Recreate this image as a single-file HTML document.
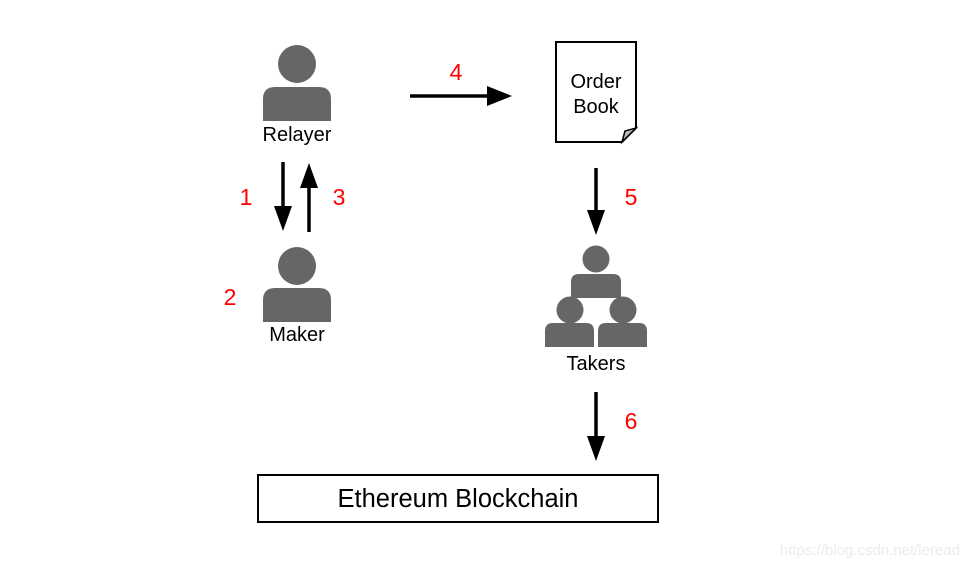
<!DOCTYPE html>
<html><head><meta charset="utf-8"><style>
html,body{margin:0;padding:0;background:#fff;}
svg{display:block}
text{font-family:"Liberation Sans",Arial,sans-serif;}
</style></head><body>
<svg width="968" height="568" viewBox="0 0 968 568" xmlns="http://www.w3.org/2000/svg">
<rect width="968" height="568" fill="#fff"/>
<!-- Order book -->
<path d="M556 42 H636 V128 L622 142 H556 Z" fill="#fff" stroke="#000" stroke-width="2"/>
<path d="M636 128 L622 142 L625 131 Z" fill="#bbb" stroke="#000" stroke-width="1.5"/>
<g fill="#666">
 <circle cx="297" cy="64" r="19"/>
 <path d="M263 121 V99 Q263 87 275 87 H319 Q331 87 331 99 V121 Z"/>
 <circle cx="297" cy="266" r="19"/>
 <path d="M263 322 V300 Q263 288 275 288 H319 Q331 288 331 300 V322 Z"/>
 <circle cx="596" cy="259" r="13.5"/>
 <path d="M571 298 V282 Q571 274 579 274 H613 Q621 274 621 282 V298 Z"/>
 <circle cx="570" cy="310" r="13.5"/>
 <path d="M545 347 V331 Q545 323 553 323 H586 Q594 323 594 331 V347 Z"/>
 <circle cx="623" cy="310" r="13.5"/>
 <path d="M598 347 V331 Q598 323 606 323 H639 Q647 323 647 331 V347 Z"/>
</g>
<g font-size="20" fill="#000" text-anchor="middle">
 <text x="297" y="141">Relayer</text>
 <text x="297" y="341">Maker</text>
 <text x="596" y="370">Takers</text>
 <text x="596" y="88">Order</text>
 <text x="596" y="113">Book</text>
</g>
<g stroke="#000" stroke-width="3.5">
 <line x1="410" y1="96" x2="492" y2="96"/>
 <line x1="283" y1="162" x2="283" y2="210"/>
 <line x1="309" y1="185" x2="309" y2="232"/>
 <line x1="596" y1="168" x2="596" y2="214"/>
 <line x1="596" y1="392" x2="596" y2="440"/>
</g>
<g fill="#000">
 <path d="M487 86 L512 96 L487 106 Z"/>
 <path d="M274 206 L292 206 L283 231 Z"/>
 <path d="M300 188 L318 188 L309 163 Z"/>
 <path d="M587 210 L605 210 L596 235 Z"/>
 <path d="M587 436 L605 436 L596 461 Z"/>
</g>
<g font-size="23" fill="#f00" text-anchor="middle">
 <text x="246" y="205">1</text>
 <text x="230" y="305">2</text>
 <text x="339" y="205">3</text>
 <text x="456" y="80">4</text>
 <text x="631" y="205">5</text>
 <text x="631" y="429">6</text>
</g>
<rect x="258" y="475" width="400" height="47" fill="#fff" stroke="#000" stroke-width="2"/>
<text x="458" y="507" font-size="25.5" text-anchor="middle" fill="#000">Ethereum Blockchain</text>
<text x="960" y="555" font-size="15" text-anchor="end" fill="#ececec">https://blog.csdn.net/leread</text>
</svg>
</body></html>
